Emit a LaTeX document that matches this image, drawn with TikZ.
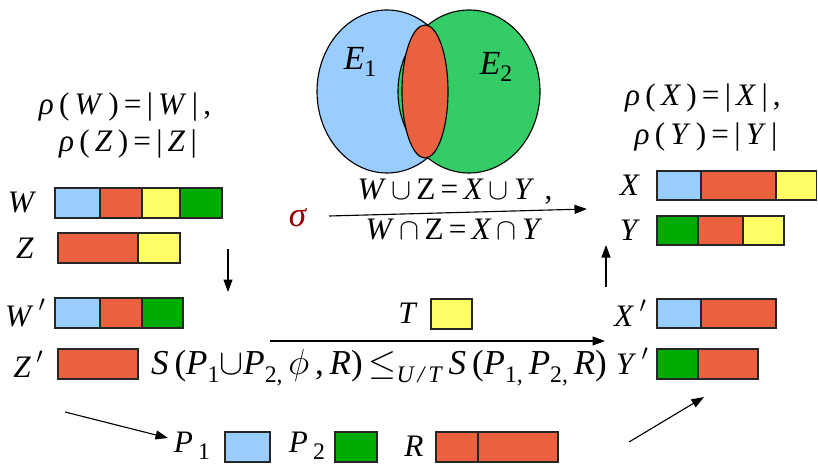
\documentclass[tikz,border=0pt]{standalone}
\usepackage{fontspec}
\setmainfont{Liberation Serif}
\usetikzlibrary{arrows.meta}
\definecolor{lblue}{HTML}{99CCFF}
\definecolor{ored}{HTML}{E9613F}
\definecolor{yell}{HTML}{FFFF66}
\definecolor{dgreen}{HTML}{00AA00}
\definecolor{vgreen}{HTML}{33CC66}
\definecolor{sigred}{HTML}{990000}
\newcommand{\sbs}[1]{\raisebox{-0.5ex}{\fontsize{9.5}{10}\selectfont #1}}
\newcommand{\prm}{\raisebox{1.0ex}{\fontsize{9}{10}\selectfont$\prime$}}
\begin{document}
\begin{tikzpicture}[x=0.4pt,y=-0.4pt,
  font=\fontsize{12.5}{15}\selectfont,
  cell/.style={draw=black!85,line width=0.6pt},
  venn/.style={draw=black,line width=0.45pt},
  arr/.style={line width=0.45pt,-{Triangle[length=5pt,width=3.6pt]}},
  lbl/.style={inner sep=0pt,anchor=center}]
\useasboundingbox (0,0) rectangle (818,465);
% Venn diagram
\filldraw[venn,fill=lblue] (387,91.5) ellipse [x radius=70,y radius=81.5];
\filldraw[venn,fill=vgreen] (469,91.5) ellipse [x radius=71,y radius=81.5];
\filldraw[venn,fill=ored] (425,91.5) ellipse [x radius=23,y radius=66.5];
\node[lbl] (E1) at (360,62) {\fontsize{13.5}{15}\selectfont\textit{E}\sbs{1}};
\node[lbl] (E2) at (496,67) {\fontsize{13.5}{15}\selectfont\textit{E}\sbs{2}};
% left formulas
\node[lbl] (rhoW) at (125,107) {\textit{ρ}\,(\,\textit{W}\,)\,=\,|\,\textit{W}\,|\,,};
\node[lbl] (rhoZ) at (128,144) {\textit{ρ}\,(\,\textit{Z}\,)\,=\,|\,\textit{Z}\,|};
\node[lbl] (rhoX) at (703,98) {\textit{ρ}\,(\,\textit{X}\,)\,=\,|\,\textit{X}\,|\,,};
\node[lbl] (rhoY) at (706,137) {\textit{ρ}\,(\,\textit{Y}\,)\,=\,|\,\textit{Y}\,|};
% labels of bars
\node[lbl] (lW) at (22,203) {\textit{W}};
\node[lbl] (lZ) at (25,248) {\textit{Z}};
\node[lbl] (lWp) at (25,313) {\textit{W}\,\prm};
\node[lbl] (lZp) at (28,364) {\textit{Z}\,\prm};
\node[lbl] (lX) at (630,185) {\textit{X}};
\node[lbl] (lY) at (630,230) {\textit{Y}};
\node[lbl] (lXp) at (630,313) {\textit{X}\,\prm};
\node[lbl] (lYp) at (632,361) {\textit{Y}\,\prm};
% bars W, Z
\filldraw[cell,fill=lblue] (55,188) rectangle (100,218);
\filldraw[cell,fill=ored] (100,188) rectangle (142,218);
\filldraw[cell,fill=yell] (142,188) rectangle (180,218);
\filldraw[cell,fill=dgreen] (180,188) rectangle (222,218);
\filldraw[cell,fill=ored] (58,233) rectangle (138,263);
\filldraw[cell,fill=yell] (138,233) rectangle (180,263);
% bars W', Z'
\filldraw[cell,fill=lblue] (55,298) rectangle (100,328);
\filldraw[cell,fill=ored] (100,298) rectangle (142,328);
\filldraw[cell,fill=dgreen] (142,298) rectangle (183,328);
\filldraw[cell,fill=ored] (58,349) rectangle (138,379);
% bars X, Y
\filldraw[cell,fill=lblue] (657,171) rectangle (701,200);
\filldraw[cell,fill=ored] (701,171) rectangle (776,200);
\filldraw[cell,fill=yell] (776,171) rectangle (816.5,200);
\filldraw[cell,fill=dgreen] (657,216) rectangle (698,245);
\filldraw[cell,fill=ored] (698,216) rectangle (743,245);
\filldraw[cell,fill=yell] (743,216) rectangle (784,245);
% bars X', Y'
\filldraw[cell,fill=lblue] (657,299) rectangle (701,328);
\filldraw[cell,fill=ored] (701,299) rectangle (776,328);
\filldraw[cell,fill=dgreen] (657,349) rectangle (698,379);
\filldraw[cell,fill=ored] (698,349) rectangle (758,379);
% T
\node[lbl] (lT) at (408,313) {\textit{T}};
\filldraw[cell,fill=yell] (431,299) rectangle (472,329);
% P1, P2, R
\node[lbl] (lP1) at (192,446) {\textit{P}\,\sbs{1}};
\filldraw[cell,fill=lblue] (225,432) rectangle (270,462);
\node[lbl] (lP2) at (307,446) {\textit{P}\,\sbs{2}};
\filldraw[cell,fill=dgreen] (335,432) rectangle (377,462);
\node[lbl] (lR) at (414,446) {\textit{R}};
\filldraw[cell,fill=ored] (436,432) rectangle (478,462);
\filldraw[cell,fill=ored] (478,432) rectangle (558,462);
% middle formulas
\node[lbl,text=sigred] (sig) at (298,218) {\fontsize{14}{15}\selectfont\textit{σ}};
\node[lbl] (uni) at (455,192) {\textit{W}\,$\cup$\,Z\,=\,\textit{X}\,$\cup$\,\textit{Y}\,\,,};
\node[lbl] (int) at (454,230) {\textit{W}\,$\cap$\,Z\,=\,\textit{X}\,$\cap$\,\textit{Y}};
\node[lbl] (Sf) at (379,368) {\fontsize{14}{16}\selectfont \textit{S}\,(\textit{P}\sbs{1}$\cup$\textit{P}\sbs{2,}\,$\phi$\,,\,\textit{R})\,$\le$\sbs{\textit{U\,/\,T}}\,\textit{S}\,(\textit{P}\sbs{1,}\,\textit{P}\sbs{2,}\,\textit{R})};
% arrows
\coordinate (d1) at (228,249); \coordinate (d2) at (228,292);
\coordinate (m1) at (270,341); \coordinate (m2) at (605,341);
\coordinate (s1) at (329,216); \coordinate (s2) at (587,209);
\coordinate (u1) at (606,287); \coordinate (u2) at (606,245);
\coordinate (p1) at (65,412); \coordinate (p2) at (168,438);
\coordinate (q1) at (629,442); \coordinate (q2) at (704,397);
\draw[arr] (d1) -- (d2);
\draw[arr] (m1) -- (m2);
\draw[arr] (s1) -- (s2);
\draw[arr] (u1) -- (u2);
\draw[arr] (p1) -- (p2);
\draw[arr] (q1) -- (q2);
\end{tikzpicture}
\end{document}
